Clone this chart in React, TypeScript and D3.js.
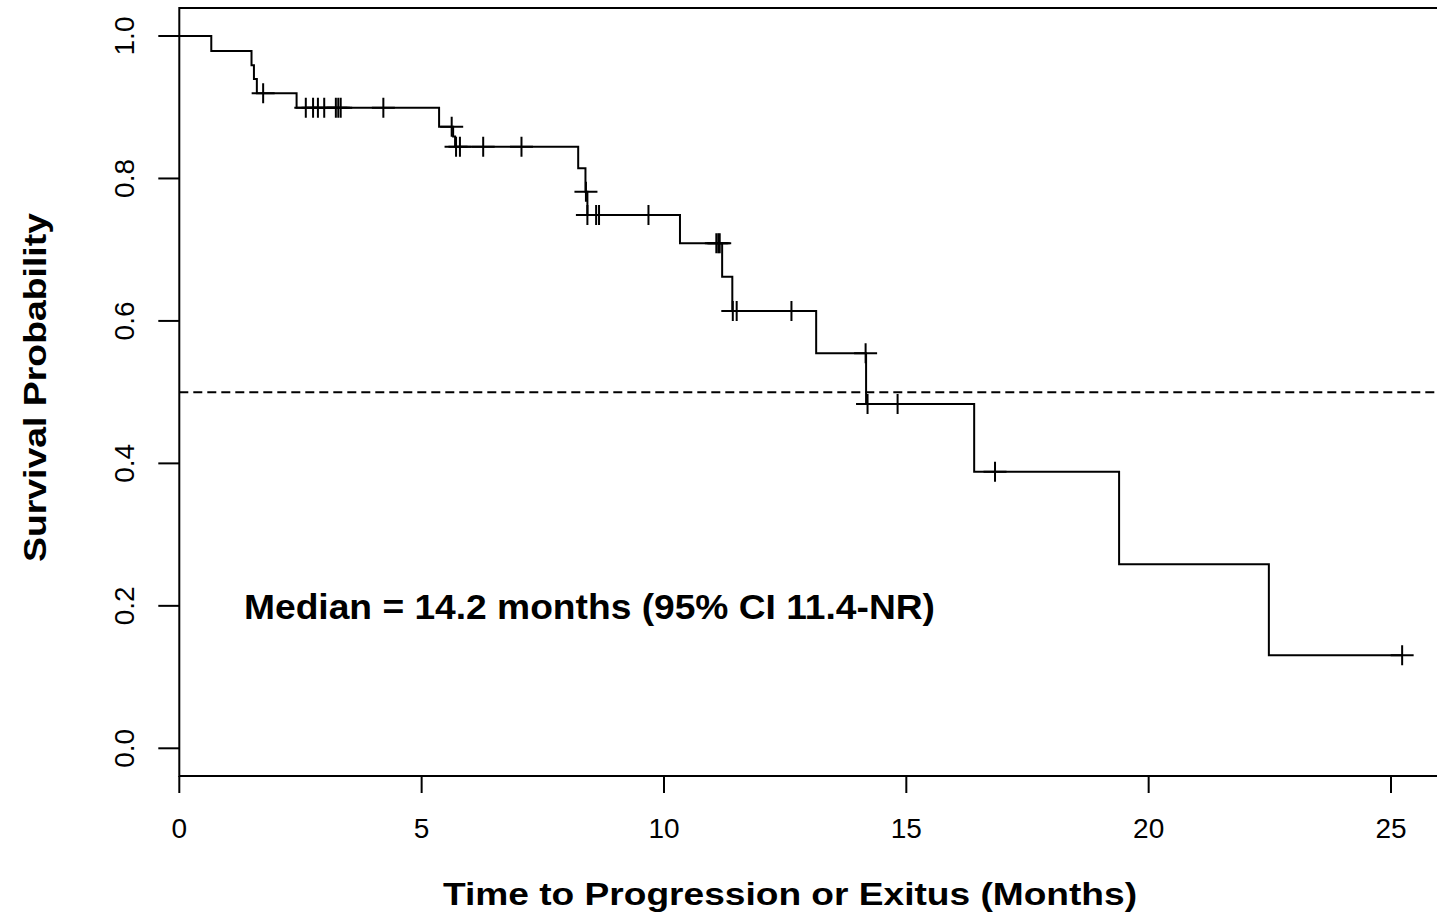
import * as d3 from 'd3'
import { useEffect, useRef } from 'react'

// Kaplan-Meier steps: time (months) and survival after the drop
const stepTimes = [0, 0.66, 1.49, 1.54, 1.6, 2.42, 5.36, 5.65, 5.69, 8.23, 8.38, 8.42, 10.33, 11.2, 11.41, 13.14, 14.17, 16.4, 19.39, 22.48]
const stepSurv = [1.0, 0.979, 0.959, 0.9396, 0.9196, 0.8993, 0.8727, 0.859, 0.8446, 0.8143, 0.7814, 0.7487, 0.709, 0.662, 0.614, 0.5545, 0.4834, 0.3883, 0.2583, 0.1306]

// censored observations ("+" marks)
const censorTimes = [1.73, 2.61, 2.76, 2.86, 2.99, 3.23, 3.28, 3.33, 4.21, 5.62, 5.71, 5.79, 6.27, 7.06, 8.39, 8.42, 8.6, 8.66, 9.68, 11.08, 11.12, 11.15, 11.42, 11.5, 12.63, 14.16, 14.2, 14.82, 16.83, 25.23]
const censorSurv = [0.9196, 0.8993, 0.8993, 0.8993, 0.8993, 0.8993, 0.8993, 0.8993, 0.8993, 0.8727, 0.8446, 0.8446, 0.8446, 0.8446, 0.7814, 0.7487, 0.7487, 0.7487, 0.7487, 0.709, 0.709, 0.709, 0.614, 0.614, 0.614, 0.5545, 0.4834, 0.4834, 0.3883, 0.1306]

const xTicks = [0, 5, 10, 15, 20, 25]
const yTicks = [0, 0.2, 0.4, 0.6, 0.8, 1.0]
const endTime = 25.23
const medianLevel = 0.5

const font = 'Liberation Sans, Arial, Helvetica, sans-serif'

export default function App() {
    const svgRef = useRef<SVGSVGElement>(null)

    useEffect(() => {
        const w = 1437
        const h = 920
        const left = 179.3
        const top = 8
        const bottom = 776

        const svg = d3.select(svgRef.current)
        svg.selectAll('*').remove()
        svg.attr('width', w).attr('height', h).style('background', '#fff')

        const xScale = d3.scaleLinear().domain([0, 25]).range([left, 1391])
        const yScale = d3.scaleLinear().domain([0, 1]).range([748.3, 36])

        // box (right side is cropped off)
        svg.append('path')
           .attr('d', `M${w},${top}H${left}V${bottom}H${w}`)
           .attr('fill', 'none')
           .attr('stroke', '#000')
           .attr('stroke-width', 2)

        // x axis ticks
        const xg = svg.append('g')
        xg.selectAll('line')
          .data(xTicks)
          .join('line')
          .attr('x1', d => xScale(d)).attr('x2', d => xScale(d))
          .attr('y1', bottom).attr('y2', bottom + 17)
          .attr('stroke', '#000').attr('stroke-width', 2)
        xg.selectAll('text')
          .data(xTicks)
          .join('text')
          .attr('x', d => xScale(d))
          .attr('y', 838)
          .attr('text-anchor', 'middle')
          .style('font-family', font)
          .style('font-size', '28px')
          .text(d => d)

        // y axis ticks
        const yg = svg.append('g')
        yg.selectAll('line')
          .data(yTicks)
          .join('line')
          .attr('x1', left - 21).attr('x2', left)
          .attr('y1', d => yScale(d)).attr('y2', d => yScale(d))
          .attr('stroke', '#000').attr('stroke-width', 2)
        yg.selectAll('text')
          .data(yTicks)
          .join('text')
          .attr('transform', d => `translate(134, ${yScale(d)}) rotate(-90)`)
          .attr('text-anchor', 'middle')
          .style('font-family', font)
          .style('font-size', '28px')
          .text(d => d.toFixed(1))

        // median reference line
        svg.append('line')
           .attr('x1', left).attr('x2', w)
           .attr('y1', yScale(medianLevel)).attr('y2', yScale(medianLevel))
           .attr('stroke', '#000')
           .attr('stroke-width', 2)
           .attr('stroke-dasharray', '9,5')

        // survival curve
        const pts: [number, number][] = stepTimes.map((t, i) => [t, stepSurv[i]])
        pts.push([endTime, stepSurv[stepSurv.length - 1]])
        const line = d3.line<[number, number]>()
                       .x(d => xScale(d[0]))
                       .y(d => yScale(d[1]))
                       .curve(d3.curveStepAfter)
        svg.append('path')
           .datum(pts)
           .attr('d', line)
           .attr('fill', 'none')
           .attr('stroke', '#000')
           .attr('stroke-width', 2)

        // censor marks
        const marks = censorTimes.map((t, i) => [t, censorSurv[i]])
        svg.append('g')
           .selectAll('path')
           .data(marks)
           .join('path')
           .attr('d', d => {
               const cx = xScale(d[0])
               const cy = yScale(d[1])
               return `M${cx - 11.5},${cy}H${cx + 11.5}M${cx},${cy - 10}V${cy + 10}`
           })
           .attr('stroke', '#000')
           .attr('stroke-width', 2)
           .attr('fill', 'none')

        // labels
        svg.append('text')
           .attr('x', 244)
           .attr('y', 619)
           .attr('textLength', 691)
           .attr('lengthAdjust', 'spacingAndGlyphs')
           .style('font-family', font)
           .style('font-weight', 'bold')
           .style('font-size', '35px')
           .text('Median = 14.2 months (95% CI 11.4-NR)')

        svg.append('text')
           .attr('x', 443)
           .attr('y', 905)
           .attr('textLength', 694)
           .attr('lengthAdjust', 'spacingAndGlyphs')
           .style('font-family', font)
           .style('font-weight', 'bold')
           .style('font-size', '31px')
           .text('Time to Progression or Exitus (Months)')

        svg.append('text')
           .attr('transform', 'translate(46, 562) rotate(-90)')
           .attr('textLength', 349)
           .attr('lengthAdjust', 'spacingAndGlyphs')
           .style('font-family', font)
           .style('font-weight', 'bold')
           .style('font-size', '31px')
           .text('Survival Probability')
    }, [])

    return (
        <svg ref={svgRef} style={{ position: 'absolute', left: 0, top: 0 }} />
    )
}
